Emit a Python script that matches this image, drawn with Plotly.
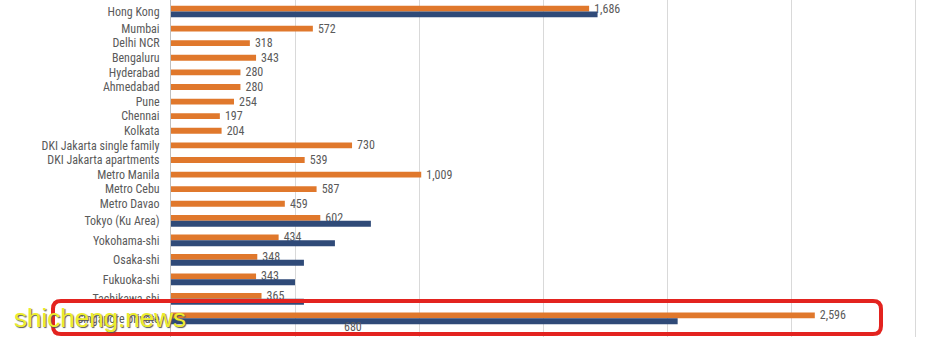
import numpy as np
import plotly.graph_objects as go

categories = ["Hong Kong", "Mumbai", "Delhi NCR", "Bengaluru", "Hyderabad", "Ahmedabad",
              "Pune", "Chennai", "Kolkata", "DKI Jakarta single family",
              "DKI Jakarta apartments", "Metro Manila", "Metro Cebu", "Metro Davao",
              "Tokyo (Ku Area)", "Yokohama-shi", "Osaka-shi", "Fukuoka-shi",
              "Tachikawa-shi", "Singapore private"]
orange_vals = [1686, 572, 318, 343, 280, 280, 254, 197, 204, 730, 539, 1009, 587, 459,
               602, 434, 348, 343, 365, 2596]
blue_vals = [1720, None, None, None, None, None, None, None, None, None, None, None, None,
             None, 806, 661, 536, 500, 536, 2043]
stray_label = "680"

ORANGE = "#E0782C"
BLUE = "#2F4A78"
GRAY = "#5A5A5A"
FONT = "Liberation Sans Narrow, Arial Narrow, Roboto Condensed, Liberation Sans, sans-serif"

W, H = 928, 337
ML = 171
PX_PER_UNIT = 14.6
TOP_OFF = -0.12

# row layout: rows with two bars are taller
has_blue = [b is not None for b in blue_vals]
heights = np.array([1.336 if hb else 1.0 for hb in has_blue])
pos = np.cumsum(heights) - heights / 2
bw = 0.4
orange_off = [-bw if hb else -bw / 2 for hb in has_blue]

fig = go.Figure()
fig.add_trace(go.Bar(
    x=orange_vals, y=pos, orientation="h", width=bw, offset=orange_off,
    marker=dict(color=ORANGE, line=dict(width=0)),
    text=["\u00a0\u2009" + f"{v:,}" for v in orange_vals], textposition="outside",
    constraintext="none",
    textfont=dict(family=FONT, size=12, color=GRAY), cliponaxis=False,
))
fig.add_trace(go.Bar(
    x=blue_vals, y=pos, orientation="h", width=bw, offset=0,
    marker=dict(color=BLUE, line=dict(width=0)),
))

xmax = (W - ML) / 0.248
fig.update_layout(
    width=W, height=H, margin=dict(l=ML, r=0, t=0, b=0),
    barmode="overlay", showlegend=False,
    plot_bgcolor="white", paper_bgcolor="white",
    xaxis=dict(range=[0, xmax], dtick=500, tick0=0, showgrid=True, gridcolor="#D9D9D9",
               gridwidth=1, showticklabels=False, zeroline=False, fixedrange=True),
    yaxis=dict(range=[H / PX_PER_UNIT + TOP_OFF, TOP_OFF], tickvals=list(pos),
               ticktext=categories, showgrid=False, zeroline=False,
               showline=True, linecolor="#BFBFBF", linewidth=1,
               ticks="", ticklabelstandoff=8,
               tickfont=dict(family=FONT, size=12, color=GRAY)),
)

# stray partial label at the bottom
fig.add_annotation(text=stray_label, x=734, xref="x", y=0.002, yref="paper",
                   yanchor="bottom", showarrow=False,
                   font=dict(family=FONT, size=12, color=GRAY))


def px2paper(px, py):
    return (px - ML) / (W - ML), 1 - py / H


# red highlight rounded rectangle
x0, x1, y0, y1, r = 53, 881, 301, 334, 8
def P(px, py):
    a, b = px2paper(px, py)
    return f"{a:.5f},{b:.5f}"
path = (f"M {P(x0 + r, y0)} L {P(x1 - r, y0)} Q {P(x1, y0)} {P(x1, y0 + r)} "
        f"L {P(x1, y1 - r)} Q {P(x1, y1)} {P(x1 - r, y1)} L {P(x0 + r, y1)} "
        f"Q {P(x0, y1)} {P(x0, y1 - r)} L {P(x0, y0 + r)} Q {P(x0, y0)} {P(x0 + r, y0)} Z")
fig.add_shape(type="path", path=path, xref="paper", yref="paper",
              line=dict(color="#E3231F", width=4), layer="above")

# watermark
wx, wy = px2paper(12, 318)
fig.add_annotation(text="shicheng.news", x=wx, y=wy, xref="paper", yref="paper",
                   xanchor="left", yanchor="middle", showarrow=False,
                   font=dict(family="Liberation Sans, Arial, sans-serif", size=26,
                             color="#EDED2C", shadow="1px 1px 1px #555"))

fig.write_html("out.html")
